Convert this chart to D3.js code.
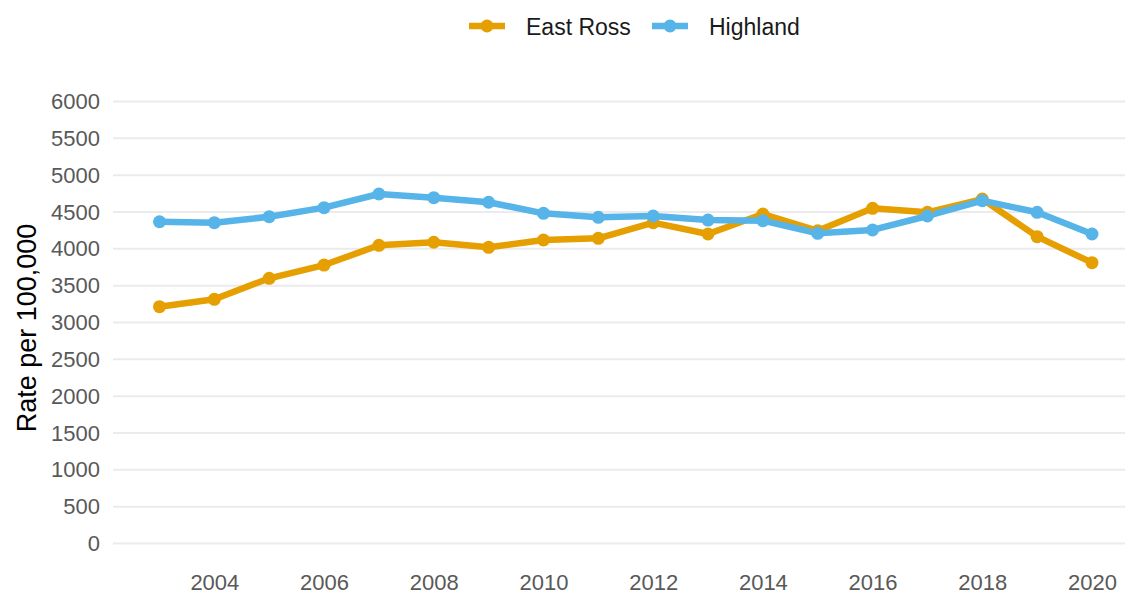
<!DOCTYPE html>
<html>
<head>
<meta charset="utf-8">
<script src="https://cdn.jsdelivr.net/npm/d3@7"></script>
<style>
  html, body { margin: 0; padding: 0; background: #ffffff; }
  svg { display: block; font-family: "Liberation Sans", Arial, sans-serif; }
</style>
</head>
<body>
<svg id="chart" width="1125" height="596"></svg>
<script>
// Rates per 100,000 population, by year
const years = [2003, 2004, 2005, 2006, 2007, 2008, 2009, 2010, 2011, 2012,
               2013, 2014, 2015, 2016, 2017, 2018, 2019, 2020];
const eastRoss = [3215, 3315, 3600, 3780, 4048, 4089, 4021, 4120, 4143, 4355,
                  4201, 4473, 4245, 4550, 4496, 4676, 4165, 3812];
const highland = [4368, 4355, 4436, 4559, 4744, 4694, 4632, 4482, 4428, 4446,
                  4391, 4382, 4211, 4256, 4446, 4654, 4496, 4201];
const seriesNames = ["East Ross", "Highland"];
const seriesColors = ["#E69F00", "#56B4E9"];
const yTicks = [0, 500, 1000, 1500, 2000, 2500, 3000, 3500, 4000, 4500, 5000, 5500, 6000];
const xTicks = [2004, 2006, 2008, 2010, 2012, 2014, 2016, 2018, 2020];
const yTitle = "Rate per 100,000";

const series = [eastRoss, highland].map((vals, i) => ({
  name: seriesNames[i],
  color: seriesColors[i],
  points: years.map((yr, j) => ({ year: yr, value: vals[j] }))
}));

const svg = d3.select("#chart");

const x = d3.scaleLinear().domain([2003, 2020]).range([159.5, 1092]);
const y = d3.scaleLinear().domain([0, 6000]).range([543.5, 101.5]);

const panelLeft = 113, panelRight = 1125;

// horizontal gridlines
svg.append("g")
  .selectAll("line")
  .data(yTicks)
  .join("line")
  .attr("x1", panelLeft).attr("x2", panelRight)
  .attr("y1", d => y(d)).attr("y2", d => y(d))
  .attr("stroke", "#ebebeb")
  .attr("stroke-width", 2);

// y axis tick labels
const yAxis = d3.axisLeft(y).tickValues(yTicks).tickSize(0).tickPadding(0)
  .tickFormat(d3.format("d"));
svg.append("g")
  .attr("transform", "translate(100,0)")
  .call(yAxis)
  .call(g => g.select(".domain").remove())
  .call(g => g.selectAll("text")
    .attr("fill", "#595959")
    .attr("font-size", 22)
    .attr("font-family", "Liberation Sans, Arial, sans-serif"));

// x axis tick labels
const xAxis = d3.axisBottom(x).tickValues(xTicks).tickSize(0).tickPadding(0)
  .tickFormat(d3.format("d"));
svg.append("g")
  .attr("transform", "translate(0,574)")
  .call(xAxis)
  .call(g => g.select(".domain").remove())
  .call(g => g.selectAll("text")
    .attr("fill", "#595959")
    .attr("font-size", 22)
    .attr("font-family", "Liberation Sans, Arial, sans-serif"));

// y axis title
svg.append("text")
  .attr("transform", "translate(36,328) rotate(-90)")
  .attr("text-anchor", "middle")
  .attr("font-size", 27)
  .attr("fill", "#000000")
  .text(yTitle);

// series lines
const line = d3.line().x(d => x(d.year)).y(d => y(d.value));
svg.append("g")
  .selectAll("path")
  .data(series)
  .join("path")
  .attr("d", d => line(d.points))
  .attr("fill", "none")
  .attr("stroke", d => d.color)
  .attr("stroke-width", 6.5)
  .attr("stroke-linejoin", "round");

// series points
svg.append("g")
  .selectAll("g")
  .data(series)
  .join("g")
  .attr("fill", d => d.color)
  .selectAll("circle")
  .data(d => d.points)
  .join("circle")
  .attr("cx", d => x(d.year))
  .attr("cy", d => y(d.value))
  .attr("r", 6.5);

// legend
const legendItems = [
  { name: seriesNames[0], color: seriesColors[0], x0: 469 },
  { name: seriesNames[1], color: seriesColors[1], x0: 652 }
];
const legend = svg.append("g");
const li = legend.selectAll("g")
  .data(legendItems)
  .join("g")
  .attr("transform", d => `translate(${d.x0},26)`);
li.append("line")
  .attr("x1", 0).attr("x2", 36)
  .attr("y1", 0).attr("y2", 0)
  .attr("stroke", d => d.color)
  .attr("stroke-width", 6.5);
li.append("circle")
  .attr("cx", 18).attr("cy", 0).attr("r", 6.5)
  .attr("fill", d => d.color);
li.append("text")
  .attr("x", 57).attr("y", 8.5)
  .attr("font-size", 23)
  .attr("fill", "#1a1a1a")
  .text(d => d.name);
</script>
</body>
</html>
